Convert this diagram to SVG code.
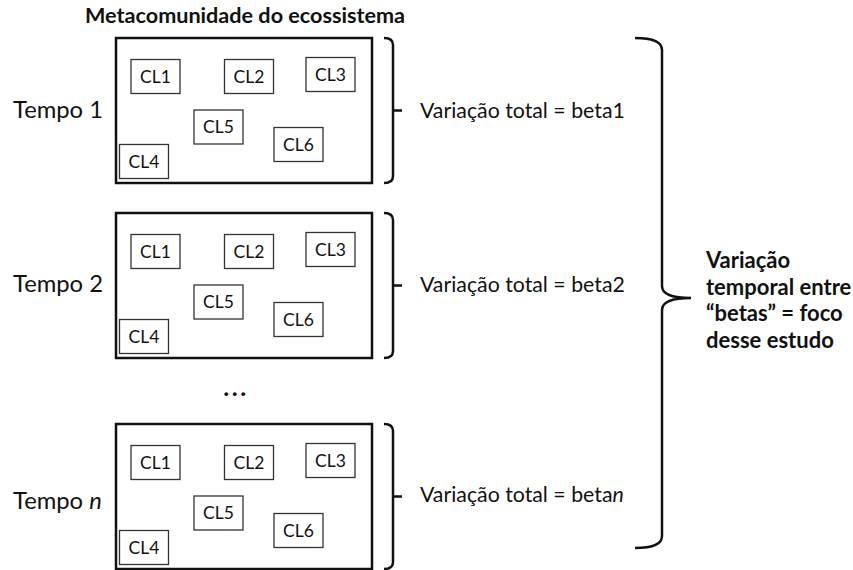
<svg xmlns="http://www.w3.org/2000/svg" width="853" height="570" viewBox="0 0 853 570">
<style>
.outer{fill:#fff;stroke:#111;stroke-width:2.5}
.cl{fill:#fff;stroke:#333;stroke-width:1.3}
.cltxt{font-family:Lato,"Open Sans","Liberation Sans",sans-serif;font-size:17.5px;fill:#111;text-anchor:middle}
.tempo{font-family:Lato,"Open Sans","Liberation Sans",sans-serif;font-size:23.8px;fill:#111}
.lbl{font-family:Lato,"Open Sans","Liberation Sans",sans-serif;font-size:21.3px;fill:#111}
.bold{font-family:Lato,"Open Sans","Liberation Sans",sans-serif;font-weight:bold;fill:#111}
.br{fill:none;stroke:#111;stroke-width:2.5;stroke-linecap:butt}
</style>
<defs>
<g id="meta">
<rect class="outer" x="0" y="0" width="256" height="145"/>
<rect class="cl" x="15" y="21.5" width="49" height="34"/><text class="cltxt" x="39.5" y="44.5">CL1</text>
<rect class="cl" x="108.5" y="21.5" width="49" height="34"/><text class="cltxt" x="133" y="44.5">CL2</text>
<rect class="cl" x="190" y="19.5" width="49" height="34"/><text class="cltxt" x="214.5" y="42.5">CL3</text>
<rect class="cl" x="78" y="72" width="49" height="34"/><text class="cltxt" x="102.5" y="95">CL5</text>
<rect class="cl" x="158" y="89.5" width="49" height="34"/><text class="cltxt" x="182.5" y="112.5">CL6</text>
<rect class="cl" x="3.5" y="106.5" width="49" height="34"/><text class="cltxt" x="28" y="129.5">CL4</text>
</g>
</defs>
<text class="bold" x="85" y="23" font-size="21" textLength="320" lengthAdjust="spacingAndGlyphs">Metacomunidade do ecossistema</text>
<g id="tempo1">
<use href="#meta" x="116" y="38"/>
<text class="tempo" x="13" y="118">Tempo 1</text>
</g>
<g id="tempo2">
<use href="#meta" x="116" y="213"/>
<text class="tempo" x="13" y="292">Tempo 2</text>
</g>
<g id="dots">
<text class="bold" x="236" y="396" font-size="25" text-anchor="middle" letter-spacing="2.5">...</text>
</g>
<g id="tempon">
<use href="#meta" x="116" y="424"/>
<text class="tempo" x="13" y="509">Tempo <tspan font-style="italic">n</tspan></text>
</g>
<g id="connectors">
<path class="br" d="M384,38 Q393,38 393,45 L393,176 Q393,183 384,183 M393,110.5 H402"/>
<path class="br" d="M384,213 Q393,213 393,220 L393,351 Q393,358 384,358 M393,285.5 H402"/>
<path class="br" d="M384,424 Q393,424 393,431 L393,562 Q393,569 384,569 M393,496.5 H402"/>
<path class="br" d="M635,38 Q662,38 662,50 L662,286 Q662,298 691,298 Q662,298 662,310 L662,536 Q662,548 635,548"/>
</g>
<g id="beta1"><text class="lbl" x="420" y="118">Variação total = beta1</text></g>
<g id="beta2"><text class="lbl" x="420" y="292">Variação total = beta2</text></g>
<g id="betan"><text class="lbl" x="420" y="502">Variação total = beta<tspan font-style="italic">n</tspan></text></g>
<g id="foco">
<text class="bold" font-size="22" x="706"><tspan x="706" y="268">Variação</tspan><tspan x="706" y="295">temporal entre</tspan><tspan x="706" y="321">“betas” = foco</tspan><tspan x="706" y="348">desse estudo</tspan></text>
</g>
</svg>
